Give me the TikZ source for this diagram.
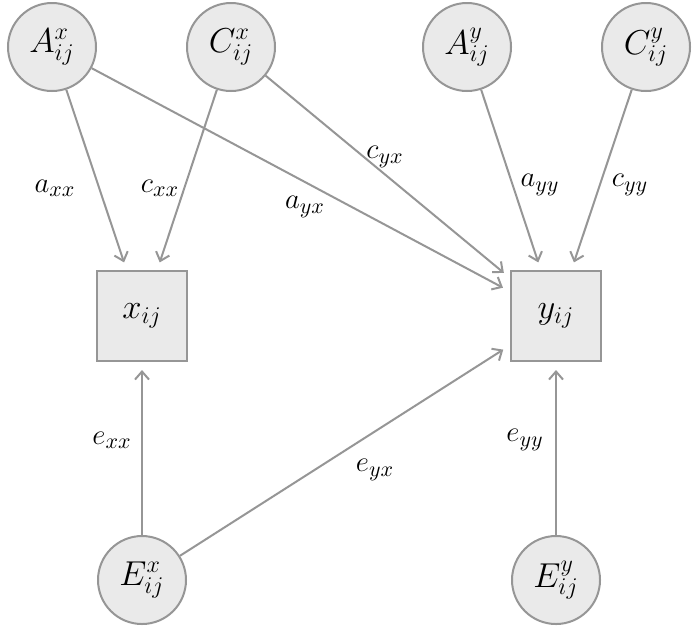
\documentclass[tikz,border=0pt]{standalone}
\usetikzlibrary{arrows.meta}
\definecolor{edgegray}{RGB}{150,150,150}
\definecolor{fillgray}{RGB}{234,234,234}
\tikzset{
  latent/.style={circle, draw=edgegray, fill=fillgray, line width=1pt, minimum size=44pt, inner sep=0pt, font=\fontsize{16.5}{19}\selectfont},
  observed/.style={rectangle, draw=edgegray, fill=fillgray, line width=1pt, minimum size=45pt, inner sep=0pt, font=\fontsize{16.5}{19}\selectfont},
  path/.style={draw=edgegray, line width=1pt, -{Straight Barb[length=4pt,width=7pt]}, shorten >=4pt},
  lbl/.style={font=\fontsize{15.5}{18}\selectfont, inner sep=1pt}
}
\begin{document}
\begin{tikzpicture}[x=0.5pt,y=-0.5pt]
\useasboundingbox (0,0) rectangle (699,634);
\node[latent] (Ax) at (52,47) {$A^x_{ij}$};
\node[latent] (Cx) at (231,47) {$C^x_{ij}$};
\node[latent] (Ay) at (467,47) {$A^y_{ij}$};
\node[latent] (Cy) at (646,47) {$C^y_{ij}$};
\node[observed] (x) at (142,316) {$x_{ij}$};
\node[observed] (y) at (556,316) {$y_{ij}$};
\node[latent] (Ex) at (142,580) {$E^x_{ij}$};
\node[latent] (Ey) at (556,580) {$E^y_{ij}$};
\draw[path] (Ax) -- (x);
\draw[path] (Cx) -- (x);
\draw[path] (Ax) -- (y);
\draw[path] (Cx) -- (y);
\draw[path] (Ay) -- (y);
\draw[path] (Cy) -- (y);
\draw[path] (Ex) -- (x);
\draw[path] (Ex) -- (y);
\draw[path] (Ey) -- (y);
\node[lbl] (laxx) at (55,188) {$a_{xx}$};
\node[lbl] (lcxx) at (160,188) {$c_{xx}$};
\node[lbl] (lcyx) at (385,157) {$c_{yx}$};
\node[lbl] (layx) at (305,207) {$a_{yx}$};
\node[lbl] (layy) at (540,185) {$a_{yy}$};
\node[lbl] (lcyy) at (630,185) {$c_{yy}$};
\node[lbl] (lexx) at (112,440) {$e_{xx}$};
\node[lbl] (leyx) at (375,470) {$e_{yx}$};
\node[lbl] (leyy) at (525,440) {$e_{yy}$};
\end{tikzpicture}
\end{document}
